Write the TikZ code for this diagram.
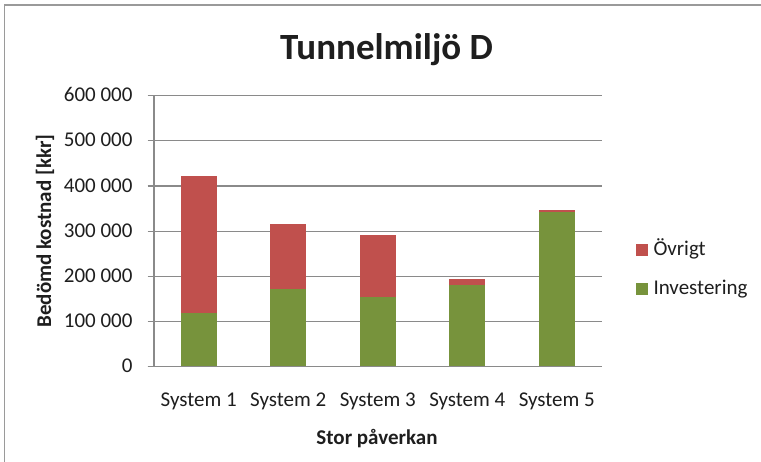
\documentclass[tikz,border=0pt]{standalone}
\usepackage{fontspec}
\setmainfont{Carlito}
\definecolor{ovr}{HTML}{C0504D}
\definecolor{inv}{HTML}{77933C}
\definecolor{gridc}{HTML}{8A8A8A}
\definecolor{framec}{HTML}{9A9A9A}
\definecolor{txt}{HTML}{1E1E1E}
\tikzset{
  gridline/.style={draw=gridc, line width=1.1pt},
  framel/.style={draw=framec, line width=1.1pt},
  ticklab/.style={anchor=base east, inner sep=0pt, text=txt, font=\fontsize{21}{24}\selectfont},
  catlab/.style={anchor=base, inner sep=0pt, text=txt, font=\fontsize{21}{24}\selectfont},
  axtitle/.style={inner sep=0pt, text=txt, font=\fontsize{21}{24}\selectfont\bfseries},
  legtext/.style={anchor=base west, inner sep=0pt, text=txt, font=\fontsize{21}{24}\selectfont},
}
\begin{document}
\begin{tikzpicture}[x=1pt,y=-1pt]
\useasboundingbox (0,0) rectangle (761,462);
\fill[white] (0,0) rectangle (761,462);
\draw[framel] (4.5,462) -- (4.5,5) -- (761,5);
% title
\node[anchor=base, inner sep=0pt, text=txt, font=\fontsize{37}{40}\selectfont\bfseries] (title) at (386.5,59.3) {Tunnelmiljö D};
% grid and tick labels
\foreach \v/\lab [count=\i] in {0/0, 100/100 000, 200/200 000, 300/300 000, 400/400 000, 500/500 000, 600/600 000}{
  \pgfmathsetmacro{\yy}{366.7-\v*0.4517}
  \draw[gridline] (147.7,\yy) -- (601.7,\yy);
  \node[ticklab] (tick\i) at (132.7,\yy+6) {\lab};
}
% bars
\foreach \c/\g/\t [count=\i] in {198.8/118/422, 288.3/171/316, 377.8/155/291, 467.3/181/194, 556.8/343/347}{
  \pgfmathsetmacro{\yg}{366.7-\g*0.4517}
  \pgfmathsetmacro{\yt}{366.7-\t*0.4517}
  \fill[inv] (\c-18,366.7) rectangle (\c+18,\yg);
  \fill[ovr] (\c-18,\yg) rectangle (\c+18,\yt);
  \node[catlab] (cat\i) at (\c,406.4) {System \i};
}
% axes
\draw[gridline] (154,95.7) -- (154,366.7);
\draw[gridline] (147.7,366.7) -- (601.7,366.7);
% axis titles
\node[axtitle, rotate=90] (ytitle) at (45,231) {Bedömd kostnad [kkr]};
\node[axtitle, anchor=base] (xtitle) at (377,444.5) {Stor påverkan};
% legend
\fill[ovr] (636,244.3) rectangle (647.7,256) coordinate (sqo);
\node[legtext] (lego) at (653.3,256) {Övrigt};
\fill[inv] (636,283.3) rectangle (647.7,295) coordinate (sqi);
\node[legtext] (legi) at (653.3,295) {Investering};
\end{tikzpicture}
\end{document}
